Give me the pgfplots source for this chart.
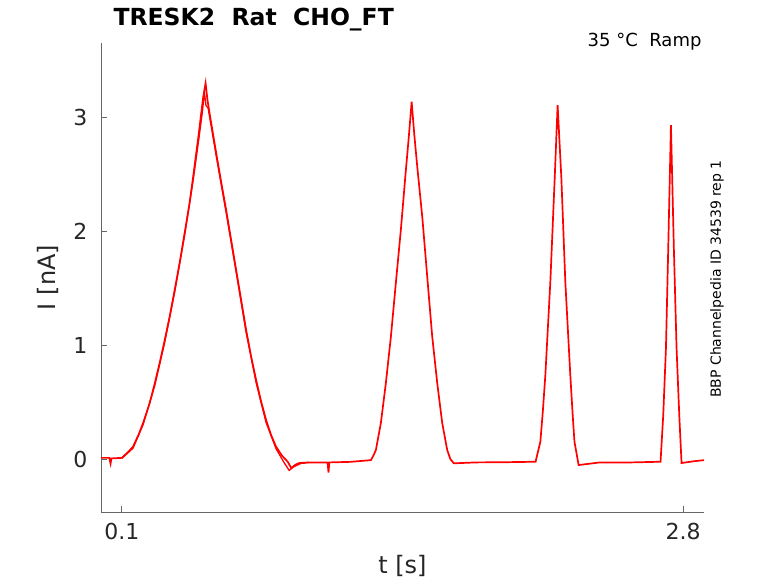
\documentclass[border=0pt]{standalone}
\usepackage{pgfplots}
\pgfplotsset{compat=1.18}
\usepackage{fontspec}
\setmainfont{DejaVu Sans}
\definecolor{axgray}{RGB}{102,102,102}
\definecolor{txtgray}{RGB}{38,38,38}
\begin{document}
\begin{tikzpicture}[x=1pt,y=1pt]
\path[use as bounding box] (0,0) rectangle (778,583);
\begin{axis}[
  at={(101pt,71pt)}, anchor=south west,
  scale only axis, width=603pt, height=469pt,
  xmin=0, xmax=2.9, ymin=-0.465, ymax=3.65,
  axis x line*=bottom, axis y line*=left,
  axis line style={axgray, line width=0.8pt},
  tick style={axgray, line width=0.8pt},
  tick align=inside, major tick length=6pt,
  xtick={0.1,2.8}, ytick={0,1,2,3},
  xticklabels={0.1,2.8},
  /pgf/number format/assume math mode=true,
  ticklabel style={font=\fontsize{22}{24}\selectfont, text=txtgray},
  xticklabel style={yshift=-8pt},
  yticklabel style={xshift=-10pt},
  xlabel={t [s]}, ylabel={I [nA]},
  label style={font=\fontsize{24}{26}\selectfont, text=txtgray},
  xlabel style={at={(axis description cs:0.5,0)}, anchor=north, yshift=-40pt},
  ylabel style={at={(axis description cs:0,0.5)}, anchor=south, xshift=0pt, yshift=39pt},
  clip=false,
]
\addplot[red, line width=1.7pt] table {
0.000 0.010
0.040 0.010
0.046 -0.040
0.050 0.005
0.100 0.010
0.106 0.020
0.130 0.060
0.154 0.108
0.180 0.210
0.202 0.313
0.234 0.489
0.258 0.660
0.282 0.842
0.306 1.040
0.330 1.248
0.354 1.480
0.378 1.719
0.402 1.980
0.426 2.246
0.442 2.460
0.458 2.684
0.470 2.850
0.482 3.035
0.492 3.180
0.503 3.298
0.512 3.150
0.522 3.035
0.538 2.860
0.554 2.684
0.578 2.430
0.602 2.184
0.626 1.920
0.650 1.658
0.674 1.395
0.698 1.132
0.722 0.900
0.746 0.693
0.770 0.505
0.794 0.342
0.818 0.210
0.842 0.108
0.870 0.030
0.898 -0.024
0.915 -0.080
0.935 -0.050
0.954 -0.035
1.000 -0.030
1.090 -0.030
1.094 -0.120
1.098 -0.030
1.200 -0.025
1.298 -0.010
1.310 0.030
1.322 0.079
1.346 0.316
1.370 0.667
1.394 1.070
1.418 1.544
1.442 2.009
1.465 2.509
1.480 2.820
1.494 3.134
1.507 2.840
1.521 2.564
1.545 2.125
1.569 1.599
1.593 1.073
1.617 0.667
1.641 0.316
1.665 0.079
1.680 0.000
1.697 -0.038
1.800 -0.030
1.950 -0.028
2.090 -0.024
2.113 0.152
2.125 0.420
2.137 0.737
2.161 1.555
2.182 2.465
2.196 3.105
2.214 2.465
2.233 1.555
2.257 0.737
2.268 0.400
2.277 0.152
2.297 -0.053
2.400 -0.030
2.550 -0.030
2.691 -0.024
2.704 0.386
2.717 0.974
2.728 1.851
2.741 2.930
2.755 1.851
2.768 0.974
2.781 0.386
2.792 -0.035
2.850 -0.020
2.900 -0.010
};
\addplot[red, line width=1.3pt] table {
0.100 0.005
0.154 0.095
0.202 0.300
0.258 0.640
0.306 1.020
0.354 1.460
0.402 1.960
0.442 2.430
0.470 2.800
0.488 3.050
0.497 3.220
0.505 3.100
0.515 3.080
0.530 2.920
0.554 2.660
0.602 2.160
0.650 1.640
0.698 1.110
0.746 0.670
0.794 0.320
0.842 0.090
0.880 -0.030
0.905 -0.100
0.925 -0.070
0.960 -0.040
1.000 -0.030
};
\end{axis}
\node[anchor=base west, font=\bfseries\fontsize{23.5}{25}\selectfont] at (110,557) {TRESK2\ \ Rat\ \ CHO\_FT};
\node[anchor=base east, font=\fontsize{18}{20}\selectfont] at (705,536) {35 °C\ \ Ramp};
\node[rotate=90, font=\fontsize{14}{16}\selectfont] at (717,304) {BBP Channelpedia ID 34539 rep 1};
\end{tikzpicture}
\end{document}
